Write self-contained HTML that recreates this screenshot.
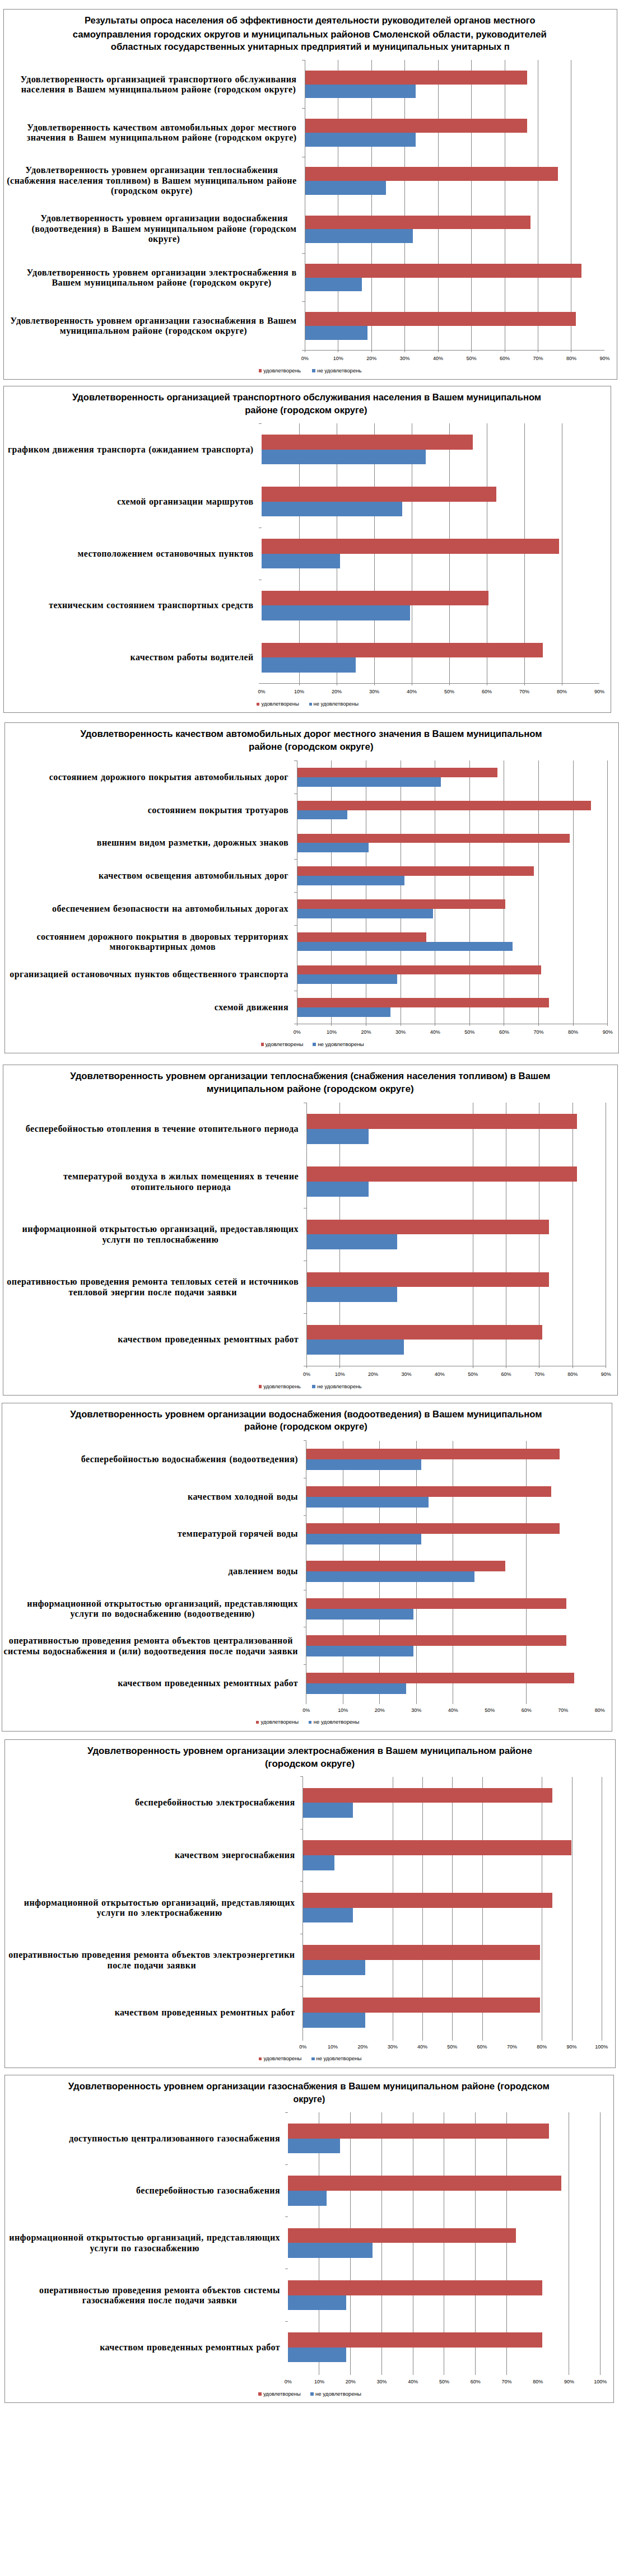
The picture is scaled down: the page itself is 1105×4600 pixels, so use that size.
<!DOCTYPE html>
<html lang="ru"><head><meta charset="utf-8"><title>Результаты опроса населения</title>
<style>
html,body{margin:0;padding:0;background:#fff}
#p{position:relative;width:1105px;height:4600px;overflow:hidden;background:#fff}
#p svg{position:absolute;left:0;top:0}
.t{font:bold 16.75px "Liberation Sans",sans-serif;fill:#000}
.a{font:9px "Liberation Sans",sans-serif;text-anchor:middle;fill:#000}
.l{font:9px "Liberation Sans",sans-serif;fill:#000}
.c{position:absolute;transform:translateY(-50%);white-space:pre;text-align:center;font:bold 16px/18.4px "Liberation Serif",serif;letter-spacing:.42px;word-spacing:.8px;color:#000}
</style></head><body><div id="p">
<svg width="1105" height="4600" viewBox="0 0 1105 4600" shape-rendering="crispEdges">
<rect x="6.5" y="16.5" width="1095" height="661" fill="#fff" stroke="#868686" stroke-width="1"/>
<rect x="603.17" y="107.4" width="1" height="517.8" fill="#868686"/>
<rect x="662.64" y="107.4" width="1" height="517.8" fill="#868686"/>
<rect x="722.11" y="107.4" width="1" height="517.8" fill="#868686"/>
<rect x="781.58" y="107.4" width="1" height="517.8" fill="#868686"/>
<rect x="841.05" y="107.4" width="1" height="517.8" fill="#868686"/>
<rect x="900.52" y="107.4" width="1" height="517.8" fill="#868686"/>
<rect x="959.99" y="107.4" width="1" height="517.8" fill="#868686"/>
<rect x="1019.46" y="107.4" width="1" height="517.8" fill="#868686"/>
<rect x="544.2" y="125.89" width="397.2" height="24.66" fill="#C0504D"/>
<rect x="544.2" y="150.55" width="197.3" height="24.66" fill="#4F81BD"/>
<rect x="544.2" y="212.19" width="397.2" height="24.66" fill="#C0504D"/>
<rect x="544.2" y="236.85" width="197.3" height="24.66" fill="#4F81BD"/>
<rect x="544.2" y="298.49" width="451.8" height="24.66" fill="#C0504D"/>
<rect x="544.2" y="323.15" width="144.3" height="24.66" fill="#4F81BD"/>
<rect x="544.2" y="384.79" width="402.6" height="24.66" fill="#C0504D"/>
<rect x="544.2" y="409.45" width="192.3" height="24.66" fill="#4F81BD"/>
<rect x="544.2" y="471.09" width="493.7" height="24.66" fill="#C0504D"/>
<rect x="544.2" y="495.75" width="101.3" height="24.66" fill="#4F81BD"/>
<rect x="544.2" y="557.39" width="483.4" height="24.66" fill="#C0504D"/>
<rect x="544.2" y="582.05" width="111.3" height="24.66" fill="#4F81BD"/>
<rect x="543.7" y="107.4" width="1" height="517.8" fill="#868686"/>
<rect x="539.2" y="106.9" width="5" height="1" fill="#868686"/>
<rect x="539.2" y="193.2" width="5" height="1" fill="#868686"/>
<rect x="539.2" y="279.5" width="5" height="1" fill="#868686"/>
<rect x="539.2" y="452.1" width="5" height="1" fill="#868686"/>
<rect x="539.2" y="538.4" width="5" height="1" fill="#868686"/>
<rect x="539.2" y="624.7" width="5" height="1" fill="#868686"/>
<rect x="539.2" y="624.7" width="540.23" height="1" fill="#868686"/>
<rect x="543.7" y="625.2" width="1" height="3.4" fill="#868686"/>
<rect x="603.17" y="625.2" width="1" height="3.4" fill="#868686"/>
<rect x="662.64" y="625.2" width="1" height="3.4" fill="#868686"/>
<rect x="722.11" y="625.2" width="1" height="3.4" fill="#868686"/>
<rect x="781.58" y="625.2" width="1" height="3.4" fill="#868686"/>
<rect x="841.05" y="625.2" width="1" height="3.4" fill="#868686"/>
<rect x="900.52" y="625.2" width="1" height="3.4" fill="#868686"/>
<rect x="959.99" y="625.2" width="1" height="3.4" fill="#868686"/>
<rect x="1019.46" y="625.2" width="1" height="3.4" fill="#868686"/>
<text class="a" x="544.2" y="642.9">0%</text>
<text class="a" x="603.67" y="642.9">10%</text>
<text class="a" x="663.14" y="642.9">20%</text>
<text class="a" x="722.61" y="642.9">30%</text>
<text class="a" x="782.08" y="642.9">40%</text>
<text class="a" x="841.55" y="642.9">50%</text>
<text class="a" x="901.02" y="642.9">60%</text>
<text class="a" x="960.49" y="642.9">70%</text>
<text class="a" x="1019.96" y="642.9">80%</text>
<text class="a" x="1079.43" y="642.9">90%</text>
<rect x="462" y="659.4" width="5.3" height="5.2" fill="#C0504D"/>
<rect x="557.3" y="659.4" width="5.3" height="5.2" fill="#4F81BD"/>
<text class="l" x="470.2" y="664.6" textLength="66.8" lengthAdjust="spacingAndGlyphs">удовлетворень</text>
<text class="l" x="566.2" y="664.6" textLength="79.2" lengthAdjust="spacingAndGlyphs">не удовлетворень</text>
<text class="t" x="151" y="42.3" textLength="804.5" lengthAdjust="spacingAndGlyphs">Результаты опроса населения об эффективности деятельности руководителей органов местного</text>
<text class="t" x="129.7" y="66.5" textLength="846.1" lengthAdjust="spacingAndGlyphs">самоуправления городских округов и муниципальных районов Смоленской области, руководителей</text>
<text class="t" x="197.8" y="89.4" textLength="712.1" lengthAdjust="spacingAndGlyphs">областных государственных унитарных предприятий и муниципальных унитарных п</text>
<rect x="6.5" y="689.5" width="1084" height="583" fill="#fff" stroke="#868686" stroke-width="1"/>
<rect x="533.5" y="756.3" width="1" height="464.5" fill="#868686"/>
<rect x="600.5" y="756.3" width="1" height="464.5" fill="#868686"/>
<rect x="667.5" y="756.3" width="1" height="464.5" fill="#868686"/>
<rect x="734.5" y="756.3" width="1" height="464.5" fill="#868686"/>
<rect x="801.5" y="756.3" width="1" height="464.5" fill="#868686"/>
<rect x="868.5" y="756.3" width="1" height="464.5" fill="#868686"/>
<rect x="935.5" y="756.3" width="1" height="464.5" fill="#868686"/>
<rect x="1002.5" y="756.3" width="1" height="464.5" fill="#868686"/>
<rect x="467" y="776.21" width="377" height="26.54" fill="#C0504D"/>
<rect x="467" y="802.75" width="293.2" height="26.54" fill="#4F81BD"/>
<rect x="467" y="869.11" width="418.9" height="26.54" fill="#C0504D"/>
<rect x="467" y="895.65" width="250.6" height="26.54" fill="#4F81BD"/>
<rect x="467" y="962.01" width="531.4" height="26.54" fill="#C0504D"/>
<rect x="467" y="988.55" width="139.5" height="26.54" fill="#4F81BD"/>
<rect x="467" y="1054.91" width="405.1" height="26.54" fill="#C0504D"/>
<rect x="467" y="1081.45" width="264.6" height="26.54" fill="#4F81BD"/>
<rect x="467" y="1147.81" width="502" height="26.54" fill="#C0504D"/>
<rect x="467" y="1174.35" width="168" height="26.54" fill="#4F81BD"/>
<rect x="462" y="755.8" width="5" height="1" fill="#868686"/>
<rect x="462" y="941.6" width="5" height="1" fill="#868686"/>
<rect x="462" y="1034.5" width="5" height="1" fill="#868686"/>
<rect x="462" y="1220.3" width="5" height="1" fill="#868686"/>
<rect x="462" y="1220.3" width="608" height="1" fill="#868686"/>
<rect x="533.5" y="1220.8" width="1" height="3.4" fill="#868686"/>
<rect x="600.5" y="1220.8" width="1" height="3.4" fill="#868686"/>
<rect x="667.5" y="1220.8" width="1" height="3.4" fill="#868686"/>
<rect x="734.5" y="1220.8" width="1" height="3.4" fill="#868686"/>
<rect x="801.5" y="1220.8" width="1" height="3.4" fill="#868686"/>
<rect x="868.5" y="1220.8" width="1" height="3.4" fill="#868686"/>
<rect x="935.5" y="1220.8" width="1" height="3.4" fill="#868686"/>
<rect x="1002.5" y="1220.8" width="1" height="3.4" fill="#868686"/>
<text class="a" x="467" y="1238.3">0%</text>
<text class="a" x="534" y="1238.3">10%</text>
<text class="a" x="601" y="1238.3">20%</text>
<text class="a" x="668" y="1238.3">30%</text>
<text class="a" x="735" y="1238.3">40%</text>
<text class="a" x="802" y="1238.3">50%</text>
<text class="a" x="869" y="1238.3">60%</text>
<text class="a" x="936" y="1238.3">70%</text>
<text class="a" x="1003" y="1238.3">80%</text>
<text class="a" x="1070" y="1238.3">90%</text>
<rect x="458" y="1254.7" width="5.3" height="5.2" fill="#C0504D"/>
<rect x="551.5" y="1254.7" width="5.3" height="5.2" fill="#4F81BD"/>
<text class="l" x="466.5" y="1259.9" textLength="67.2" lengthAdjust="spacingAndGlyphs">удовлетворены</text>
<text class="l" x="559.5" y="1259.9" textLength="80.5" lengthAdjust="spacingAndGlyphs">не удовлетворены</text>
<text class="t" x="129.1" y="715.4" textLength="837" lengthAdjust="spacingAndGlyphs">Удовлетворенность организацией транспортного обслуживания населения в Вашем муниципальном</text>
<text class="t" x="437.2" y="738" textLength="218.3" lengthAdjust="spacingAndGlyphs">районе (городском округе)</text>
<rect x="8.5" y="1290.5" width="1096" height="590" fill="#fff" stroke="#868686" stroke-width="1"/>
<rect x="591.4" y="1358.4" width="1" height="470.1" fill="#868686"/>
<rect x="653" y="1358.4" width="1" height="470.1" fill="#868686"/>
<rect x="714.6" y="1358.4" width="1" height="470.1" fill="#868686"/>
<rect x="776.2" y="1358.4" width="1" height="470.1" fill="#868686"/>
<rect x="837.8" y="1358.4" width="1" height="470.1" fill="#868686"/>
<rect x="899.4" y="1358.4" width="1" height="470.1" fill="#868686"/>
<rect x="961" y="1358.4" width="1" height="470.1" fill="#868686"/>
<rect x="1022.6" y="1358.4" width="1" height="470.1" fill="#868686"/>
<rect x="1084.2" y="1358.4" width="1" height="470.1" fill="#868686"/>
<rect x="530.3" y="1370.99" width="357.7" height="16.79" fill="#C0504D"/>
<rect x="530.3" y="1387.78" width="256.3" height="16.79" fill="#4F81BD"/>
<rect x="530.3" y="1429.75" width="525.1" height="16.79" fill="#C0504D"/>
<rect x="530.3" y="1446.54" width="89.5" height="16.79" fill="#4F81BD"/>
<rect x="530.3" y="1488.52" width="487.1" height="16.79" fill="#C0504D"/>
<rect x="530.3" y="1505.31" width="127.4" height="16.79" fill="#4F81BD"/>
<rect x="530.3" y="1547.28" width="423" height="16.79" fill="#C0504D"/>
<rect x="530.3" y="1564.07" width="191.6" height="16.79" fill="#4F81BD"/>
<rect x="530.3" y="1606.04" width="371.9" height="16.79" fill="#C0504D"/>
<rect x="530.3" y="1622.83" width="242.6" height="16.79" fill="#4F81BD"/>
<rect x="530.3" y="1664.8" width="230.8" height="16.79" fill="#C0504D"/>
<rect x="530.3" y="1681.59" width="385" height="16.79" fill="#4F81BD"/>
<rect x="530.3" y="1723.57" width="436.1" height="16.79" fill="#C0504D"/>
<rect x="530.3" y="1740.36" width="178.5" height="16.79" fill="#4F81BD"/>
<rect x="530.3" y="1782.33" width="449.2" height="16.79" fill="#C0504D"/>
<rect x="530.3" y="1799.12" width="166.7" height="16.79" fill="#4F81BD"/>
<rect x="529.8" y="1358.4" width="1" height="470.1" fill="#868686"/>
<rect x="525.3" y="1357.9" width="5" height="1" fill="#868686"/>
<rect x="525.3" y="1416.66" width="5" height="1" fill="#868686"/>
<rect x="525.3" y="1534.19" width="5" height="1" fill="#868686"/>
<rect x="525.3" y="1592.95" width="5" height="1" fill="#868686"/>
<rect x="525.3" y="1651.71" width="5" height="1" fill="#868686"/>
<rect x="525.3" y="1769.24" width="5" height="1" fill="#868686"/>
<rect x="525.3" y="1828" width="5" height="1" fill="#868686"/>
<rect x="525.3" y="1828" width="559.4" height="1" fill="#868686"/>
<rect x="529.8" y="1828.5" width="1" height="3.4" fill="#868686"/>
<rect x="591.4" y="1828.5" width="1" height="3.4" fill="#868686"/>
<rect x="653" y="1828.5" width="1" height="3.4" fill="#868686"/>
<rect x="714.6" y="1828.5" width="1" height="3.4" fill="#868686"/>
<rect x="776.2" y="1828.5" width="1" height="3.4" fill="#868686"/>
<rect x="837.8" y="1828.5" width="1" height="3.4" fill="#868686"/>
<rect x="899.4" y="1828.5" width="1" height="3.4" fill="#868686"/>
<rect x="961" y="1828.5" width="1" height="3.4" fill="#868686"/>
<rect x="1022.6" y="1828.5" width="1" height="3.4" fill="#868686"/>
<rect x="1084.2" y="1828.5" width="1" height="3.4" fill="#868686"/>
<text class="a" x="530.3" y="1846.2">0%</text>
<text class="a" x="591.9" y="1846.2">10%</text>
<text class="a" x="653.5" y="1846.2">20%</text>
<text class="a" x="715.1" y="1846.2">30%</text>
<text class="a" x="776.7" y="1846.2">40%</text>
<text class="a" x="838.3" y="1846.2">50%</text>
<text class="a" x="899.9" y="1846.2">60%</text>
<text class="a" x="961.5" y="1846.2">70%</text>
<text class="a" x="1023.1" y="1846.2">80%</text>
<text class="a" x="1084.7" y="1846.2">90%</text>
<rect x="465.6" y="1862.4" width="5.3" height="5.2" fill="#C0504D"/>
<rect x="558.3" y="1862.4" width="5.3" height="5.2" fill="#4F81BD"/>
<text class="l" x="473.4" y="1867.6" textLength="67.9" lengthAdjust="spacingAndGlyphs">удовлетворены</text>
<text class="l" x="567.2" y="1867.6" textLength="82.5" lengthAdjust="spacingAndGlyphs">не удовлетворены</text>
<text class="t" x="143.4" y="1315.8" textLength="824.2" lengthAdjust="spacingAndGlyphs">Удовлетворенность качеством автомобильных дорог местного значения в Вашем муниципальном</text>
<text class="t" x="443.9" y="1338.6" textLength="222.6" lengthAdjust="spacingAndGlyphs">районе (городском округе)</text>
<rect x="5.5" y="1901.5" width="1097" height="590" fill="#fff" stroke="#868686" stroke-width="1"/>
<rect x="606.26" y="1969.3" width="1" height="470.2" fill="#868686"/>
<rect x="843.7" y="1969.3" width="1" height="470.2" fill="#868686"/>
<rect x="903.06" y="1969.3" width="1" height="470.2" fill="#868686"/>
<rect x="962.42" y="1969.3" width="1" height="470.2" fill="#868686"/>
<rect x="1021.78" y="1969.3" width="1" height="470.2" fill="#868686"/>
<rect x="1081.14" y="1969.3" width="1" height="470.2" fill="#868686"/>
<rect x="547.4" y="1989.45" width="482.4" height="26.87" fill="#C0504D"/>
<rect x="547.4" y="2016.32" width="110.3" height="26.87" fill="#4F81BD"/>
<rect x="547.4" y="2083.49" width="482.4" height="26.87" fill="#C0504D"/>
<rect x="547.4" y="2110.36" width="110.3" height="26.87" fill="#4F81BD"/>
<rect x="547.4" y="2177.53" width="432.7" height="26.87" fill="#C0504D"/>
<rect x="547.4" y="2204.4" width="161.4" height="26.87" fill="#4F81BD"/>
<rect x="547.4" y="2271.57" width="432.7" height="26.87" fill="#C0504D"/>
<rect x="547.4" y="2298.44" width="161.4" height="26.87" fill="#4F81BD"/>
<rect x="547.4" y="2365.61" width="420.9" height="26.87" fill="#C0504D"/>
<rect x="547.4" y="2392.48" width="173.1" height="26.87" fill="#4F81BD"/>
<rect x="546.9" y="1969.3" width="1" height="470.2" fill="#868686"/>
<rect x="542.4" y="1968.8" width="5" height="1" fill="#868686"/>
<rect x="542.4" y="2156.88" width="5" height="1" fill="#868686"/>
<rect x="542.4" y="2250.92" width="5" height="1" fill="#868686"/>
<rect x="542.4" y="2344.96" width="5" height="1" fill="#868686"/>
<rect x="542.4" y="2439" width="5" height="1" fill="#868686"/>
<rect x="542.4" y="2439" width="539.24" height="1" fill="#868686"/>
<rect x="546.9" y="2439.5" width="1" height="3.4" fill="#868686"/>
<rect x="606.26" y="2439.5" width="1" height="3.4" fill="#868686"/>
<rect x="843.7" y="2439.5" width="1" height="3.4" fill="#868686"/>
<rect x="903.06" y="2439.5" width="1" height="3.4" fill="#868686"/>
<rect x="962.42" y="2439.5" width="1" height="3.4" fill="#868686"/>
<rect x="1021.78" y="2439.5" width="1" height="3.4" fill="#868686"/>
<rect x="1081.14" y="2439.5" width="1" height="3.4" fill="#868686"/>
<text class="a" x="547.4" y="2457">0%</text>
<text class="a" x="606.76" y="2457">10%</text>
<text class="a" x="666.12" y="2457">20%</text>
<text class="a" x="725.48" y="2457">30%</text>
<text class="a" x="784.84" y="2457">40%</text>
<text class="a" x="844.2" y="2457">50%</text>
<text class="a" x="903.56" y="2457">60%</text>
<text class="a" x="962.92" y="2457">70%</text>
<text class="a" x="1022.28" y="2457">80%</text>
<text class="a" x="1081.64" y="2457">90%</text>
<rect x="462" y="2473.4" width="5.3" height="5.2" fill="#C0504D"/>
<rect x="557.3" y="2473.4" width="5.3" height="5.2" fill="#4F81BD"/>
<text class="l" x="470.2" y="2478.6" textLength="66.5" lengthAdjust="spacingAndGlyphs">удовлетворень</text>
<text class="l" x="566.2" y="2478.6" textLength="79.2" lengthAdjust="spacingAndGlyphs">не удовлетворень</text>
<text class="t" x="125.3" y="1926.8" textLength="857.2" lengthAdjust="spacingAndGlyphs">Удовлетворенность уровнем организации теплоснабжения (снабжения населения топливом) в Вашем</text>
<text class="t" x="368.8" y="1949.6" textLength="369.9" lengthAdjust="spacingAndGlyphs">муниципальном районе (городском округе)</text>
<rect x="3.5" y="2505.5" width="1089" height="586" fill="#fff" stroke="#868686" stroke-width="1"/>
<rect x="611.8" y="2572.9" width="1" height="470.4" fill="#868686"/>
<rect x="677.3" y="2572.9" width="1" height="470.4" fill="#868686"/>
<rect x="742.8" y="2572.9" width="1" height="470.4" fill="#868686"/>
<rect x="808.3" y="2572.9" width="1" height="470.4" fill="#868686"/>
<rect x="939.3" y="2572.9" width="1" height="470.4" fill="#868686"/>
<rect x="546.8" y="2587.17" width="452.3" height="19.02" fill="#C0504D"/>
<rect x="546.8" y="2606.19" width="205.2" height="19.02" fill="#4F81BD"/>
<rect x="546.8" y="2653.75" width="437.2" height="19.02" fill="#C0504D"/>
<rect x="546.8" y="2672.78" width="218.3" height="19.02" fill="#4F81BD"/>
<rect x="546.8" y="2720.34" width="452.3" height="19.02" fill="#C0504D"/>
<rect x="546.8" y="2739.36" width="205.2" height="19.02" fill="#4F81BD"/>
<rect x="546.8" y="2786.93" width="354.9" height="19.02" fill="#C0504D"/>
<rect x="546.8" y="2805.95" width="300.1" height="19.02" fill="#4F81BD"/>
<rect x="546.8" y="2853.51" width="463.8" height="19.02" fill="#C0504D"/>
<rect x="546.8" y="2872.54" width="190.8" height="19.02" fill="#4F81BD"/>
<rect x="546.8" y="2920.1" width="463.8" height="19.02" fill="#C0504D"/>
<rect x="546.8" y="2939.12" width="190.8" height="19.02" fill="#4F81BD"/>
<rect x="546.8" y="2986.68" width="478.2" height="19.02" fill="#C0504D"/>
<rect x="546.8" y="3005.71" width="177.7" height="19.02" fill="#4F81BD"/>
<rect x="546.3" y="2572.9" width="1" height="470.4" fill="#868686"/>
<rect x="541.8" y="2572.4" width="5" height="1" fill="#868686"/>
<rect x="541.8" y="2638.99" width="5" height="1" fill="#868686"/>
<rect x="541.8" y="2705.57" width="5" height="1" fill="#868686"/>
<rect x="541.8" y="2838.74" width="5" height="1" fill="#868686"/>
<rect x="541.8" y="2905.33" width="5" height="1" fill="#868686"/>
<rect x="541.8" y="2971.91" width="5" height="1" fill="#868686"/>
<text class="a" x="546.8" y="3057.4">0%</text>
<text class="a" x="612.3" y="3057.4">10%</text>
<text class="a" x="677.8" y="3057.4">20%</text>
<text class="a" x="743.3" y="3057.4">30%</text>
<text class="a" x="808.8" y="3057.4">40%</text>
<text class="a" x="874.3" y="3057.4">50%</text>
<text class="a" x="939.8" y="3057.4">60%</text>
<text class="a" x="1005.3" y="3057.4">70%</text>
<text class="a" x="1070.8" y="3057.4">80%</text>
<rect x="457.1" y="3073.1" width="5.3" height="5.2" fill="#C0504D"/>
<rect x="550.9" y="3073.1" width="5.3" height="5.2" fill="#4F81BD"/>
<text class="l" x="465.6" y="3078.3" textLength="67.5" lengthAdjust="spacingAndGlyphs">удовлетворены</text>
<text class="l" x="559.8" y="3078.3" textLength="81.7" lengthAdjust="spacingAndGlyphs">не удовлетворены</text>
<text class="t" x="125.3" y="2530.8" textLength="842.3" lengthAdjust="spacingAndGlyphs">Удовлетворенность уровнем организации водоснабжения (водоотведения) в Вашем муниципальном</text>
<text class="t" x="436" y="2553.4" textLength="219.8" lengthAdjust="spacingAndGlyphs">районе (городском округе)</text>
<rect x="8.5" y="3106.5" width="1090" height="586" fill="#fff" stroke="#868686" stroke-width="1"/>
<rect x="700.8" y="3172.6" width="1" height="471.5" fill="#868686"/>
<rect x="754.1" y="3172.6" width="1" height="471.5" fill="#868686"/>
<rect x="807.4" y="3172.6" width="1" height="471.5" fill="#868686"/>
<rect x="860.7" y="3172.6" width="1" height="471.5" fill="#868686"/>
<rect x="967.3" y="3172.6" width="1" height="471.5" fill="#868686"/>
<rect x="1020.6" y="3172.6" width="1" height="471.5" fill="#868686"/>
<rect x="1073.9" y="3172.6" width="1" height="471.5" fill="#868686"/>
<rect x="540.8" y="3192.66" width="445.2" height="26.74" fill="#C0504D"/>
<rect x="540.8" y="3219.4" width="89.4" height="26.74" fill="#4F81BD"/>
<rect x="540.8" y="3286.26" width="479.2" height="26.74" fill="#C0504D"/>
<rect x="540.8" y="3313" width="56.1" height="26.74" fill="#4F81BD"/>
<rect x="540.8" y="3379.86" width="445.2" height="26.74" fill="#C0504D"/>
<rect x="540.8" y="3406.6" width="89.4" height="26.74" fill="#4F81BD"/>
<rect x="540.8" y="3473.46" width="422.9" height="26.74" fill="#C0504D"/>
<rect x="540.8" y="3500.2" width="111" height="26.74" fill="#4F81BD"/>
<rect x="540.8" y="3567.06" width="422.9" height="26.74" fill="#C0504D"/>
<rect x="540.8" y="3593.8" width="111" height="26.74" fill="#4F81BD"/>
<rect x="540.3" y="3172.6" width="1" height="471.5" fill="#868686"/>
<rect x="535.8" y="3172.1" width="5" height="1" fill="#868686"/>
<rect x="535.8" y="3265.7" width="5" height="1" fill="#868686"/>
<rect x="535.8" y="3359.3" width="5" height="1" fill="#868686"/>
<rect x="535.8" y="3452.9" width="5" height="1" fill="#868686"/>
<rect x="535.8" y="3546.5" width="5" height="1" fill="#868686"/>
<text class="a" x="540.8" y="3658.4">0%</text>
<text class="a" x="594.1" y="3658.4">10%</text>
<text class="a" x="647.4" y="3658.4">20%</text>
<text class="a" x="700.7" y="3658.4">30%</text>
<text class="a" x="754" y="3658.4">40%</text>
<text class="a" x="807.3" y="3658.4">50%</text>
<text class="a" x="860.6" y="3658.4">60%</text>
<text class="a" x="913.9" y="3658.4">70%</text>
<text class="a" x="967.2" y="3658.4">80%</text>
<text class="a" x="1020.5" y="3658.4">90%</text>
<text class="a" x="1073.8" y="3658.4">100%</text>
<rect x="462" y="3674" width="5.3" height="5.2" fill="#C0504D"/>
<rect x="556.2" y="3674" width="5.3" height="5.2" fill="#4F81BD"/>
<text class="l" x="470.6" y="3679.2" textLength="67.8" lengthAdjust="spacingAndGlyphs">удовлетворены</text>
<text class="l" x="564.4" y="3679.2" textLength="81" lengthAdjust="spacingAndGlyphs">не удовлетворены</text>
<text class="t" x="156.1" y="3131.8" textLength="793.9" lengthAdjust="spacingAndGlyphs">Удовлетворенность уровнем организации электроснабжения в Вашем муниципальном районе</text>
<text class="t" x="472.9" y="3154.6" textLength="160.2" lengthAdjust="spacingAndGlyphs">(городском округе)</text>
<rect x="8.5" y="3705.5" width="1087" height="585" fill="#fff" stroke="#868686" stroke-width="1"/>
<rect x="569.45" y="3772.1" width="1" height="469.2" fill="#868686"/>
<rect x="625.2" y="3772.1" width="1" height="469.2" fill="#868686"/>
<rect x="680.95" y="3772.1" width="1" height="469.2" fill="#868686"/>
<rect x="736.7" y="3772.1" width="1" height="469.2" fill="#868686"/>
<rect x="792.45" y="3772.1" width="1" height="469.2" fill="#868686"/>
<rect x="848.2" y="3772.1" width="1" height="469.2" fill="#868686"/>
<rect x="903.95" y="3772.1" width="1" height="469.2" fill="#868686"/>
<rect x="1015.45" y="3772.1" width="1" height="469.2" fill="#868686"/>
<rect x="1071.2" y="3772.1" width="1" height="469.2" fill="#868686"/>
<rect x="514.2" y="3792.08" width="465.3" height="26.65" fill="#C0504D"/>
<rect x="514.2" y="3818.73" width="92.8" height="26.65" fill="#4F81BD"/>
<rect x="514.2" y="3885.34" width="487.5" height="26.65" fill="#C0504D"/>
<rect x="514.2" y="3911.99" width="69.2" height="26.65" fill="#4F81BD"/>
<rect x="514.2" y="3978.6" width="407" height="26.65" fill="#C0504D"/>
<rect x="514.2" y="4005.25" width="151" height="26.65" fill="#4F81BD"/>
<rect x="514.2" y="4071.86" width="454.1" height="26.65" fill="#C0504D"/>
<rect x="514.2" y="4098.51" width="103.9" height="26.65" fill="#4F81BD"/>
<rect x="514.2" y="4165.12" width="454.1" height="26.65" fill="#C0504D"/>
<rect x="514.2" y="4191.77" width="103.9" height="26.65" fill="#4F81BD"/>
<rect x="509.2" y="3771.6" width="5" height="1" fill="#868686"/>
<rect x="509.2" y="3864.86" width="5" height="1" fill="#868686"/>
<rect x="509.2" y="3958.12" width="5" height="1" fill="#868686"/>
<rect x="509.2" y="4051.38" width="5" height="1" fill="#868686"/>
<rect x="509.2" y="4144.64" width="5" height="1" fill="#868686"/>
<text class="a" x="514.2" y="4256.3">0%</text>
<text class="a" x="569.95" y="4256.3">10%</text>
<text class="a" x="625.7" y="4256.3">20%</text>
<text class="a" x="681.45" y="4256.3">30%</text>
<text class="a" x="737.2" y="4256.3">40%</text>
<text class="a" x="792.95" y="4256.3">50%</text>
<text class="a" x="848.7" y="4256.3">60%</text>
<text class="a" x="904.45" y="4256.3">70%</text>
<text class="a" x="960.2" y="4256.3">80%</text>
<text class="a" x="1015.95" y="4256.3">90%</text>
<text class="a" x="1071.7" y="4256.3">100%</text>
<rect x="461.3" y="4272.4" width="5.3" height="5.2" fill="#C0504D"/>
<rect x="554.4" y="4272.4" width="5.3" height="5.2" fill="#4F81BD"/>
<text class="l" x="469.9" y="4277.6" textLength="66.8" lengthAdjust="spacingAndGlyphs">удовлетворены</text>
<text class="l" x="563" y="4277.6" textLength="82" lengthAdjust="spacingAndGlyphs">не удовлетворены</text>
<text class="t" x="121.7" y="3730.8" textLength="859.1" lengthAdjust="spacingAndGlyphs">Удовлетворенность уровнем организации газоснабжения в Вашем муниципальном районе (городском</text>
<text class="t" x="523.5" y="3753.6" textLength="56.7" lengthAdjust="spacingAndGlyphs">округе)</text>
</svg>
<div class="c" style="right:575.5px;top:150.55px;font-size:16.1px">Удовлетворенность организацией транспортного обслуживания<br>населения в Вашем муниципальном районе (городском округе)</div>
<div class="c" style="right:575.5px;top:236.85px;font-size:16.1px">Удовлетворенность качеством автомобильных дорог местного<br>значения в Вашем муниципальном районе (городском округе)</div>
<div class="c" style="right:575.5px;top:323.15px;font-size:16.1px">Удовлетворенность уровнем организации теплоснабжения<br>(снабжения населения топливом) в Вашем муниципальном районе<br>(городском округе)</div>
<div class="c" style="right:575.5px;top:409.45px;font-size:16.1px">Удовлетворенность уровнем организации водоснабжения<br>(водоотведения) в Вашем муниципальном районе (городском<br>округе)</div>
<div class="c" style="right:575.5px;top:495.75px;font-size:16.1px">Удовлетворенность уровнем организации электроснабжения в<br>Вашем муниципальном районе (городском округе)</div>
<div class="c" style="right:575.5px;top:582.05px;font-size:16.1px">Удовлетворенность уровнем организации газоснабжения в Вашем<br>муниципальном районе (городском округе)</div>
<div class="c" style="right:652.5px;top:802.75px;font-size:15.87px">графиком движения транспорта (ожиданием транспорта)</div>
<div class="c" style="right:652.5px;top:895.65px;font-size:15.87px">схемой организации маршрутов</div>
<div class="c" style="right:652.5px;top:988.55px;font-size:15.87px">местоположением остановочных пунктов</div>
<div class="c" style="right:652.5px;top:1081.45px;font-size:15.87px">техническим состоянием транспортных средств</div>
<div class="c" style="right:652.5px;top:1174.35px;font-size:15.87px">качеством работы водителей</div>
<div class="c" style="right:590px;top:1387.78px;font-size:16px">состоянием дорожного покрытия автомобильных дорог</div>
<div class="c" style="right:590px;top:1446.54px;font-size:16px">состоянием покрытия тротуаров</div>
<div class="c" style="right:590px;top:1505.31px;font-size:16px">внешним видом разметки, дорожных знаков</div>
<div class="c" style="right:590px;top:1564.07px;font-size:16px">качеством освещения автомобильных дорог</div>
<div class="c" style="right:590px;top:1622.83px;font-size:16px">обеспечением безопасности на автомобильных дорогах</div>
<div class="c" style="right:590px;top:1681.59px;font-size:16px">состоянием дорожного покрытия в дворовых территориях<br>многоквартирных домов</div>
<div class="c" style="right:590px;top:1740.36px;font-size:16px">организацией остановочных пунктов общественного транспорта</div>
<div class="c" style="right:590px;top:1799.12px;font-size:16px">схемой движения</div>
<div class="c" style="right:572px;top:2016.32px;font-size:16.06px">бесперебойностью отопления в течение отопительного периода</div>
<div class="c" style="right:572px;top:2110.36px;font-size:16.06px">температурой воздуха в жилых помещениях в течение<br>отопительного периода</div>
<div class="c" style="right:572px;top:2204.4px;font-size:16.06px">информационной открытостью организаций, предоставляющих<br>услуги по теплоснабжению</div>
<div class="c" style="right:572px;top:2298.44px;font-size:16.06px">оперативностью проведения ремонта тепловых сетей и источников<br>тепловой энергии после подачи заявки</div>
<div class="c" style="right:572px;top:2392.48px;font-size:16.06px">качеством проведенных ремонтных работ</div>
<div class="c" style="right:573px;top:2606.19px;font-size:16px">бесперебойностью водоснабжения (водоотведения)</div>
<div class="c" style="right:573px;top:2672.78px;font-size:16px">качеством холодной воды</div>
<div class="c" style="right:573px;top:2739.36px;font-size:16px">температурой горячей воды</div>
<div class="c" style="right:573px;top:2805.95px;font-size:16px">давлением воды</div>
<div class="c" style="right:573px;top:2872.54px;font-size:16px">информационной открытостью организаций, представляющих<br>услуги по водоснабжению (водоотведению)</div>
<div class="c" style="right:573px;top:2939.12px;font-size:16px">оперативностью проведения ремонта объектов централизованной<br>системы водоснабжения и (или) водоотведения после подачи заявки</div>
<div class="c" style="right:573px;top:3005.71px;font-size:16px">качеством проведенных ремонтных работ</div>
<div class="c" style="right:578.5px;top:3219.4px;font-size:16px">бесперебойностью электроснабжения</div>
<div class="c" style="right:578.5px;top:3313px;font-size:16px">качеством энергоснабжения</div>
<div class="c" style="right:578.5px;top:3406.6px;font-size:16px">информационной открытостью организаций, представляющих<br>услуги по электроснабжению</div>
<div class="c" style="right:578.5px;top:3500.2px;font-size:16px">оперативностью проведения ремонта объектов электроэнергетики<br>после подачи заявки</div>
<div class="c" style="right:578.5px;top:3593.8px;font-size:16px">качеством проведенных ремонтных работ</div>
<div class="c" style="right:605px;top:3818.73px;font-size:16px">доступностью централизованного газоснабжения</div>
<div class="c" style="right:605px;top:3911.99px;font-size:16px">бесперебойностью газоснабжения</div>
<div class="c" style="right:605px;top:4005.25px;font-size:16px">информационной открытостью организаций, представляющих<br>услуги по газоснабжению</div>
<div class="c" style="right:605px;top:4098.51px;font-size:16px">оперативностью проведения ремонта объектов системы<br>газоснабжения после подачи заявки</div>
<div class="c" style="right:605px;top:4191.77px;font-size:16px">качеством проведенных ремонтных работ</div>
</div></body></html>
